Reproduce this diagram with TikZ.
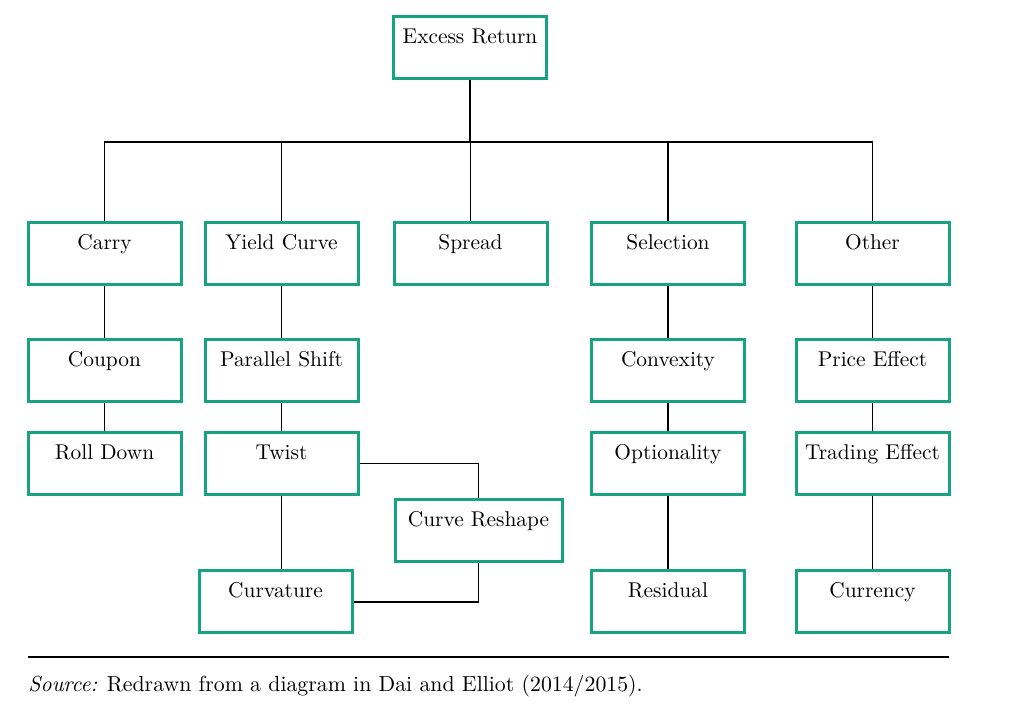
\documentclass[tikz,border=0pt]{standalone}
\usepackage{tikz}
\usetikzlibrary{positioning}
\definecolor{boxgreen}{RGB}{22,163,130}
\tikzset{
  link/.style={line width=0.75pt},
  box/.style={draw=boxgreen, line width=1.5pt, fill=white, minimum width=76.5pt, inner sep=0pt, text height=13.5pt, text depth=17.5pt, font=\fontsize{10.7}{12}\selectfont},
  widebox/.style={box, minimum width=83.5pt},
  caption/.style={anchor=base west, inner sep=0pt, font=\fontsize{10.9}{12}\selectfont}
}
\begin{document}
\begin{tikzpicture}[x=0.5pt,y=-0.5pt]
  \useasboundingbox (0,0) rectangle (1024,705);
  % top and first row
  \node[box] (excess) at (470,47.5) {Excess Return};
  \node[box] (carry) at (104.5,254) {Carry};
  \node[box] (yield) at (281.5,254) {Yield Curve};
  \node[box] (spread) at (470.5,254) {Spread};
  \node[box] (select) at (668,254) {Selection};
  \node[box] (other) at (872.5,254) {Other};
  % second and third row
  \node[box] (coupon) at (104.5,370.5) {Coupon};
  \node[box] (parallel) at (281.5,370.5) {Parallel Shift};
  \node[box] (convex) at (668,370.5) {Convexity};
  \node[box] (price) at (872.5,370.5) {Price Effect};
  \node[box] (roll) at (104.5,463.5) {Roll Down};
  \node[box] (twist) at (281.5,463.5) {Twist};
  \node[box] (option) at (668,463.5) {Optionality};
  \node[box] (trading) at (872.5,463.5) {Trading Effect};
  \node[widebox] (reshape) at (478.5,530.5) {Curve Reshape};
  % last row
  \node[box] (curv) at (275.5,602) {Curvature};
  \node[box] (resid) at (668,602) {Residual};
  \node[box] (curr) at (872.5,602) {Currency};
  % bus
  \coordinate (bus) at (0,142);
  \draw[link] (excess.south) -- (excess.south |- bus);
  \draw[link] (carry.north) -- (carry.north |- bus) -- (other.north |- bus) -- (other.north);
  \foreach \n in {yield,spread,select}
    \draw[link] (\n.north) -- (\n.north |- bus);
  % columns
  \draw[link] (carry) -- (coupon) -- (roll);
  \draw[link] (yield) -- (parallel) -- (twist);
  \draw[link] (select) -- (convex) -- (option) -- (resid);
  \draw[link] (other) -- (price) -- (trading) -- (curr);
  \draw[link] (twist.south) -- (twist.south |- curv.north);
  \draw[link] (twist.east) -| (reshape.north);
  \draw[link] (reshape.south) |- (curv.east);
  % source
  \draw[line width=1pt] (28,657) -- (949,657);
  \node[caption] (source) at (28,692) {\textit{Source:} Redrawn from a diagram in Dai and Elliot (2014/2015).};
\end{tikzpicture}
\end{document}
